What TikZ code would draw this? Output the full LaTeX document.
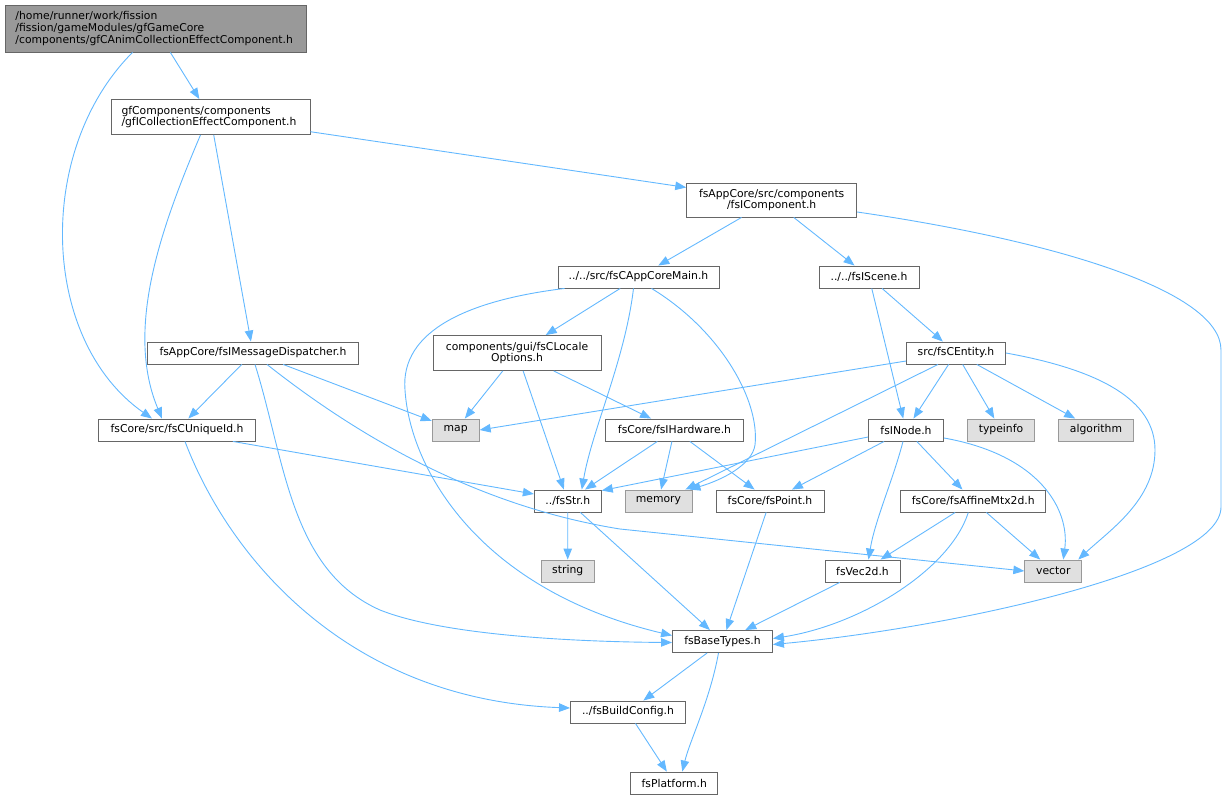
\documentclass[tikz,border=0pt]{standalone}
\usepackage{fontspec}
\setmainfont{DejaVu Sans}
\usetikzlibrary{arrows.meta,calc}
\definecolor{edgec}{HTML}{63B8FF}
\definecolor{bordc}{HTML}{666666}
\definecolor{extb}{HTML}{999999}
\definecolor{extf}{HTML}{E0E0E0}
\definecolor{topf}{HTML}{999999}
\begin{document}
\begin{tikzpicture}[x=1pt,y=-1pt,
  box/.style={draw=bordc, fill=white, line width=0.9pt, inner sep=0pt, minimum height=22pt,
    font=\fontsize{10.8}{11.9}\selectfont, align=center},
  ext/.style={box, draw=extb, fill=extf},
  leftbox/.style={box, align=left, inner xsep=10.5pt},
  e/.style={draw=edgec, line width=0.9pt, -{Triangle[length=11pt,width=8.5pt]}}]
\useasboundingbox (0,0) rectangle (1227,800);

% nodes
\node[leftbox, fill=topf, minimum width=301pt, minimum height=47pt, text width=280pt] (top) at (155.5,28.5)
  {/home/runner/work/fission\\/fission/gameModules/gfGameCore\\/components/gfCAnimCollectionEffectComponent.h};
\node[leftbox, minimum width=199pt, minimum height=35pt, text width=178pt] (gfi) at (210.5,117)
  {gfComponents/components\\/gfICollectionEffectComponent.h};
\node[box, minimum width=170pt, minimum height=34pt] (comp) at (771.7,200)
  {fsAppCore/src/components\\/fsIComponent.h};
\node[box, minimum width=161pt] (main) at (638.5,277) {../../src/fsCAppCoreMain.h};
\node[box, minimum width=100pt] (scene) at (869,277) {../../fsIScene.h};
\node[box, minimum width=168pt, minimum height=35pt] (loc) at (517,353)
  {components/gui/fsCLocale\\Options.h};
\node[box, minimum width=99pt] (ent) at (956,353) {src/fsCEntity.h};
\node[box, minimum width=211pt] (imd) at (253,353) {fsAppCore/fsIMessageDispatcher.h};
\node[box, minimum width=157pt] (uid) at (177,430) {fsCore/src/fsCUniqueId.h};
\node[ext, minimum width=47pt] (map) at (455.7,430) {map};
\node[box, minimum width=138pt] (hw) at (674.5,430) {fsCore/fsIHardware.h};
\node[box, minimum width=75pt] (node) at (906,430) {fsINode.h};
\node[ext, minimum width=67pt] (tinfo) at (1001,430) {typeinfo};
\node[ext, minimum width=75pt] (algo) at (1096,430) {algorithm};
\node[box, minimum width=67pt] (str) at (567.8,501) {../fsStr.h};
\node[ext, minimum width=67pt] (mem) at (658.5,501) {memory};
\node[box, minimum width=108pt] (pt) at (770,501) {fsCore/fsPoint.h};
\node[box, minimum width=145pt] (aff) at (973.3,501) {fsCore/fsAffineMtx2d.h};
\node[ext, minimum width=53pt] (string) at (567.7,571) {string};
\node[ext, minimum width=57pt] (vec) at (1053.3,571) {vector};
\node[box, minimum width=75pt] (v2) at (862.5,571) {fsVec2d.h};
\node[box, minimum width=100pt] (bt) at (722.5,641.5) {fsBaseTypes.h};
\node[box, minimum width=115pt] (bc) at (628,712) {../fsBuildConfig.h};
\node[box, minimum width=87pt] (plat) at (674.3,783) {fsPlatform.h};

% edges
\draw[e] (top) -- (gfi);
\draw[e] ($(top.south)+(-23,0)$) .. controls (35,150) and (40,340) .. ($(uid.north)+(-25,0)$);
\draw[e] (gfi) -- (comp);
\draw[e] (gfi) -- (imd);
\draw[e] ($(gfi.south)+(-10,0)$) .. controls (160,230) and (125,330) .. ($(uid.north)+(-15,0)$);

\draw[e] (comp) -- (main);
\draw[e] (comp) -- (scene);
\draw[e] ($(comp.east)+(0,12)$) .. controls (1050,240) and (1221,290) .. (1221,350) -- (1221,507)
  .. controls (1221,570) and (950,628) .. ($(bt.east)+(0,3)$);

\draw[e] (main) -- (loc);
\draw[e] ($(main.south)+(-5,0)$) .. controls (625,360) and (592,430) .. ($(str.north)+(14,0)$);
\draw[e] ($(main.south)+(13,0)$) .. controls (720,330) and (760,400) .. (755,445)
  .. controls (752,465) and (722,480) .. ($(mem.north east)+(-3,0)$);
\draw[e] ($(main.south west)+(7,0)$) .. controls (470,300) and (400,330) .. (405,390)
  .. controls (410,470) and (480,590) .. ($(bt.west)+(0,-6)$);

\draw[e] (scene) -- (ent);
\draw[e] (scene) -- (node);

\draw[e] ($(ent.west)+(0,8)$) -- (map.east);
\draw[e] (ent) -- (node);
\draw[e] (ent) -- (tinfo);
\draw[e] (ent) -- (algo);
\draw[e] ($(ent.south)+(-18,0)$) -- ($(mem.north east)+(-7,0)$);
\draw[e] (ent.east) .. controls (1100,370) and (1155,400) .. (1155,450)
  .. controls (1155,500) and (1110,530) .. ($(vec.north east)+(-4,0)$);

\draw[e] (imd) -- (uid);
\draw[e] (imd) -- (map);
\draw[e] ($(imd.south)+(2,0)$) .. controls (285,460) and (290,570) .. (380,610)
  .. controls (450,638) and (600,642) .. ($(bt.west)+(0,1)$);
\draw[e] ($(imd.south)+(14,0)$) .. controls (350,430) and (470,505) .. (620,529) -- (vec.west);

\draw[e] (loc) -- (map);
\draw[e] (loc) -- (str);
\draw[e] (loc) -- (hw);

\draw[e] ($(uid.south east)+(-23,0)$) -- ($(str.west)+(0,-7)$);
\draw[e] ($(uid.south)+(8,0)$) .. controls (230,560) and (350,700) .. ($(bc.west)+(0,-4)$);

\draw[e] (hw) -- (str);
\draw[e] (hw) -- (mem);
\draw[e] (hw) -- (pt);

\draw[e] ($(node.west)+(0,7)$) -- ($(str.north east)+(0,1)$);
\draw[e] (node) -- (pt);
\draw[e] (node) -- (aff);
\draw[e] ($(node.south)+(-3,0)$) .. controls (893,480) and (875,520) .. ($(v2.north)+(6,0)$);
\draw[e] ($(node.east)+(0,8)$) .. controls (1040,455) and (1070,510) .. ($(vec.north)+(10,0)$);

\draw[e] (str) -- (string);
\draw[e] (str) -- (bt);
\draw[e] (pt) -- (bt);
\draw[e] (aff) -- (v2);
\draw[e] (aff) -- (vec);
\draw[e] ($(aff.south)+(-5,0)$) .. controls (950,570) and (860,625) .. ($(bt.east)+(0,-3)$);
\draw[e] (v2) -- (bt);
\draw[e] (bt) -- (bc);
\draw[e] ($(bt.south)+(-4,0)$) .. controls (710,700) and (690,740) .. ($(plat.north)+(8,0)$);
\draw[e] (bc) -- (plat);
\end{tikzpicture}
\end{document}
